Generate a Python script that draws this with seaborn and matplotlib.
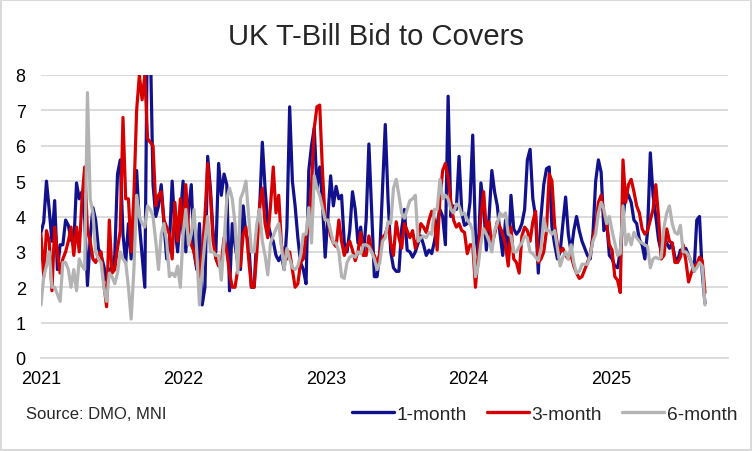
import pandas as pd
import matplotlib
matplotlib.use("Agg")
import matplotlib.pyplot as plt
from matplotlib.lines import Line2D
import seaborn as sns

# Weekly bid-to-cover ratios (first auction week of 2021 onwards)
start_date = "2021-01-01"

one_month = [
    3.55, 3.85, 5.0, 4.2, 3.3, 4.45, 2.5, 3.2, 3.2, 3.9, 3.75, 3.35, 3.2, 4.95, 4.5, 4.7, 3.9, 2.05, 3.4, 4.25,
    3.9, 3.1, 2.9, 2.6, 2.2, 2.5, 2.55, 2.9, 5.2, 5.6, 3.5, 2.7, 3.8, 2.8, 4.0, 5.3, 3.8, 2.9, 2.0, 10.0, 9.0,
    4.9, 4.0, 4.3, 4.9, 3.8, 2.8, 3.2, 5.0, 3.7, 3.0, 4.0, 5.0, 3.0, 4.2, 4.9, 3.0, 2.5, 3.8, 1.5, 2.0,
    5.7, 4.8, 3.5, 3.0, 5.5, 4.6, 5.2, 4.9, 1.9, 3.8, 3.2, 2.7, 2.5, 4.3, 3.5, 3.3, 2.0, 2.0, 3.5, 4.2, 6.1,
    4.8, 3.8, 3.5, 3.3, 2.9, 2.75, 2.9, 2.5, 3.7, 7.1, 5.0, 4.3, 3.4, 2.7, 2.5, 2.1, 5.3, 6.0, 6.5, 4.8,
    5.4, 4.4, 2.85, 4.0, 5.15, 4.3, 4.85, 4.5, 4.6, 3.25, 3.0, 3.6, 4.7, 4.2, 3.25, 3.7, 2.9, 3.9, 6.05, 4.2, 2.3,
    2.3, 3.0, 4.8, 6.6, 4.5, 3.0, 2.55, 2.45, 2.45, 3.65, 4.2, 3.05, 3.0, 2.85, 3.0, 3.25, 3.45, 3.2, 2.9, 3.05,
    2.95, 3.3, 3.8, 4.2, 4.0, 3.2, 7.4, 4.0, 4.3, 4.2, 5.7, 4.1, 3.75, 3.8, 4.4, 6.3, 3.5, 2.9, 4.95, 4.3, 3.05,
    4.0, 5.3, 4.7, 4.3, 3.5, 2.9, 3.9, 2.8, 4.6, 3.65, 3.5, 3.6, 3.8, 4.2, 5.6, 5.9, 4.5, 4.0, 2.4, 4.0,
    4.9, 5.35, 5.4, 3.7, 3.2, 2.8, 3.0, 3.8, 4.55, 3.5, 3.0, 3.6, 4.0, 3.6, 3.3, 3.1, 2.9, 2.8, 3.5, 5.0, 5.6,
    5.25, 3.6, 3.9, 2.9, 2.8, 2.6, 2.55, 3.0, 3.9, 4.7, 4.6, 4.4, 3.9, 3.8, 3.35, 3.2, 2.8, 3.6, 5.8, 4.6,
    4.0, 3.35, 3.0, 3.45, 3.25, 3.1, 3.25, 2.85, 2.75, 3.05, 3.0, 3.1, 2.9, 2.7, 2.45, 3.9, 4.0, 2.4, 1.55,
]

three_month = [
    3.5, 2.3, 3.6, 3.3, 1.9, 3.7, 3.0, 2.4, 2.8, 3.0, 3.3, 3.7, 2.9, 3.7, 3.0, 4.5, 5.4, 3.6, 3.3, 2.8,
    2.7, 2.9, 3.0, 2.1, 1.45, 3.9, 2.4, 2.5, 3.1, 3.6, 6.8, 4.5, 4.5, 3.0, 4.6, 7.0, 8.0, 7.3, 8.0, 6.2, 6.1,
    6.0, 4.3, 4.6, 4.7, 3.9, 3.7, 3.5, 2.8, 4.4, 3.3, 4.5, 3.5, 4.9, 3.6, 3.2, 3.0, 2.6, 2.3, 3.0, 4.0,
    5.5, 4.6, 3.3, 2.8, 2.6, 2.7, 3.4, 3.0, 2.4, 2.0, 2.0, 2.5, 2.6, 3.5, 3.7, 2.8, 2.0, 2.0, 3.0, 4.3, 4.8,
    3.8, 3.4, 4.3, 5.4, 4.1, 4.6, 3.2, 2.9, 2.8, 3.0, 2.5, 2.0, 2.1, 2.7, 2.8, 3.5, 3.6, 4.85, 6.5, 7.1,
    7.15, 5.3, 3.9, 3.9, 3.45, 3.25, 3.15, 3.9, 3.3, 2.9, 3.15, 3.3, 3.05, 2.75, 3.0, 3.55, 2.9, 2.9, 3.45, 3.0, 2.9,
    2.65, 2.95, 3.4, 3.5, 3.75, 3.25, 2.9, 3.85, 3.4, 3.1, 3.8, 3.6, 3.4, 3.6, 3.1, 3.4, 3.8, 3.7, 3.55, 3.9,
    4.15, 3.9, 3.05, 4.5, 5.3, 5.5, 5.1, 4.4, 3.9, 3.7, 3.8, 3.6, 3.55, 2.95, 3.2, 3.2, 2.0, 2.9, 4.0, 4.7, 3.6,
    3.85, 3.2, 3.5, 3.85, 3.7, 3.5, 3.2, 2.6, 3.7, 2.8, 2.7, 2.4, 3.45, 3.7, 3.6, 3.3, 3.85, 4.15, 2.7, 2.8,
    3.0, 3.6, 5.2, 5.0, 3.75, 3.2, 3.0, 3.1, 2.9, 2.8, 2.9, 2.6, 2.4, 2.25, 2.3, 2.5, 2.7, 2.9, 3.4, 3.7, 4.4,
    4.6, 4.1, 3.8, 3.2, 3.05, 2.3, 2.2, 1.85, 5.6, 4.4, 4.9, 5.05, 4.7, 4.3, 4.1, 3.65, 3.5, 3.6, 3.9, 4.2,
    4.9, 4.0, 2.8, 2.9, 3.65, 3.3, 3.25, 2.7, 2.7, 2.85, 3.2, 2.75, 2.15, 2.4, 2.6, 2.65, 2.85, 2.75, 1.85,
]

six_month = [
    1.5, 2.3, 2.6, 3.0, 2.0, 2.0, 1.8, 1.6, 2.7, 2.7, 2.5, 2.0, 2.5, 1.9, 2.8, 2.6, 2.5, 7.5, 4.5, 4.1,
    3.0, 2.8, 2.7, 2.0, 1.6, 2.4, 2.3, 2.1, 2.4, 3.0, 2.8, 2.7, 2.0, 1.1, 2.5, 4.6, 4.0, 3.8, 3.7, 4.3, 4.2,
    4.0, 3.3, 2.5, 3.5, 3.8, 3.3, 2.3, 2.4, 2.3, 2.6, 2.0, 3.5, 4.2, 3.2, 3.5, 4.2, 3.0, 1.5, 2.5, 3.3,
    4.0, 3.0, 3.0, 2.9, 2.9, 2.2, 3.3, 4.5, 4.8, 4.5, 3.8, 2.4, 4.5, 4.7, 5.0, 4.0, 3.0, 3.0, 3.8, 4.2, 3.3,
    2.9, 2.35, 3.25, 3.45, 3.65, 3.8, 3.15, 2.5, 3.1, 2.8, 2.55, 2.5, 2.6, 2.9, 3.5, 3.5, 4.25, 3.25, 5.15, 4.8,
    4.6, 4.25, 3.9, 3.9, 3.6, 3.25, 3.25, 3.0, 2.3, 2.25, 2.7, 2.85, 2.9, 2.85, 3.0, 2.95, 3.2, 3.2, 3.15, 3.0, 2.8,
    2.5, 2.7, 3.3, 3.4, 3.85, 3.8, 4.8, 5.05, 4.6, 4.1, 3.95, 4.2, 4.45, 4.5, 4.6, 3.3, 3.4, 3.45, 3.4, 3.55,
    3.5, 4.2, 4.2, 5.05, 4.5, 4.6, 4.5, 4.2, 4.1, 4.35, 4.3, 4.05, 4.1, 3.9, 3.8, 3.6, 2.3, 2.6, 3.25, 3.65, 3.5,
    3.3, 3.0, 3.6, 3.8, 4.1, 4.0, 4.1, 3.5, 3.45, 3.0, 3.0, 3.15, 3.25, 3.45, 3.4, 3.0, 2.95, 2.85, 2.75, 3.1,
    3.95, 3.6, 3.6, 3.5, 3.6, 3.1, 2.6, 2.85, 3.0, 2.8, 3.2, 2.7, 2.4, 2.45, 2.65, 2.65, 2.65, 2.9, 3.3, 3.5, 4.1,
    4.4, 4.2, 3.8, 4.0, 3.6, 3.25, 2.9, 2.95, 4.3, 3.2, 3.5, 3.2, 3.55, 3.4, 3.3, 3.25, 3.2, 3.15, 2.55, 2.8,
    2.85, 2.8, 2.85, 3.7, 4.1, 4.3, 3.8, 3.55, 3.5, 3.75, 3.0, 3.0, 2.9, 2.7, 2.45, 2.55, 2.7, 2.6, 1.5,
]

series_names = ["1-month", "3-month", "6-month"]
series_colors = ["#11118d", "#d60000", "#b3b3b3"]
year_ticks = ["2021", "2022", "2023", "2024", "2025"]

# long-form table for seaborn
frames = []
for name, vals in zip(series_names, [one_month, three_month, six_month]):
    d = pd.date_range(start_date, periods=len(vals), freq="7D")
    frames.append(pd.DataFrame({"date": d, "value": vals, "tenor": name}))
df = pd.concat(frames, ignore_index=True)

sns.set_style("white")
plt.rcParams["font.family"] = ["Liberation Sans", "DejaVu Sans"]

fig = plt.figure(figsize=(7.52, 4.52), dpi=100)
ax = fig.add_axes([41 / 752, 1 - 359 / 452, (728 - 41) / 752, (359 - 76) / 452])

palette = dict(zip(series_names, series_colors))
sns.lineplot(data=df, x="date", y="value", hue="tenor", hue_order=series_names,
             palette=palette, linewidth=2.3, ax=ax, legend=False)

ax.set_ylim(0, 8)
ax.set_yticks(range(0, 9))
ax.set_xlim(pd.Timestamp("2021-01-01"), pd.Timestamp("2025-10-27"))
ax.set_xticks([pd.Timestamp(y + "-01-01") for y in year_ticks])
ax.set_xticklabels(year_ticks)
ax.set_xlabel("")
ax.set_ylabel("")

ax.yaxis.grid(True, color="#d9d9d9", linewidth=1.3)
ax.xaxis.grid(False)
ax.set_axisbelow(True)
for s in ["top", "right", "left"]:
    ax.spines[s].set_visible(False)
ax.spines["bottom"].set_color("#d9d9d9")
ax.spines["bottom"].set_linewidth(1.3)
ax.tick_params(axis="x", direction="out", length=4, width=1.3, color="#d9d9d9",
               labelsize=13, labelcolor="black", pad=5)
ax.tick_params(axis="y", length=0, labelsize=13, labelcolor="black", pad=11)

fig.text(0.5, 1 - 37 / 452, "UK T-Bill Bid to Covers", ha="center", va="center", fontsize=21)
fig.text(26 / 752, 1 - 415 / 452, "Source: DMO, MNI", ha="left", va="center", fontsize=12)

handles = [Line2D([0], [0], color=c, lw=2.4) for c in series_colors]
fig.legend(handles, series_names, loc="center right", bbox_to_anchor=(737 / 752, 1 - 415 / 452),
           ncol=3, frameon=False, fontsize=13.8, handlelength=2.2, handletextpad=0.12,
           columnspacing=1.05, borderaxespad=0, borderpad=0)

fig.add_artist(plt.Rectangle((0.001, 0.002), 0.998, 0.996, transform=fig.transFigure,
                             fill=False, edgecolor="#d9d9d9", linewidth=1.5))

fig.savefig("out.png", dpi=100)
